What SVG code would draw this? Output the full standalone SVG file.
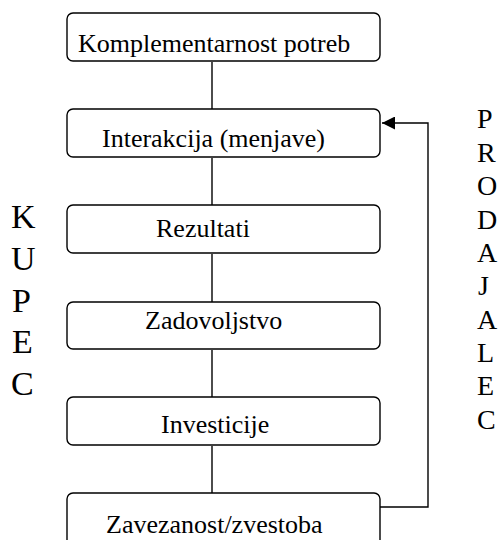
<svg xmlns="http://www.w3.org/2000/svg" width="499" height="540" viewBox="0 0 499 540">
  <style>
    .box { fill: #ffffff; stroke: #000000; stroke-width: 1.4; }
    .lbl { font-family: "Liberation Serif", "Times New Roman", serif; font-size: 26px; fill: #000000; }
    .side { font-family: "Liberation Serif", "Times New Roman", serif; fill: #000000; }
    .link { stroke: #000000; stroke-width: 1.4; fill: none; }
  </style>
  <defs>
    <marker id="arrow" viewBox="0 0 10 10" refX="10" refY="5" markerWidth="18" markerHeight="13" markerUnits="userSpaceOnUse" orient="auto">
      <path d="M0,0 L10,5 L0,10 Z" fill="#000000"/>
    </marker>
  </defs>
  <rect width="499" height="540" fill="#ffffff"/>

  <g id="connectors">
    <line class="link" x1="212" y1="62" x2="212" y2="110"/>
    <line class="link" x1="212" y1="158" x2="212" y2="206"/>
    <line class="link" x1="212" y1="254" x2="212" y2="303"/>
    <line class="link" x1="212" y1="350" x2="212" y2="398"/>
    <line class="link" x1="212" y1="446" x2="212" y2="494"/>
    <polyline class="link" points="380,507 428,507 428,123 382,123" marker-end="url(#arrow)"/>
  </g>

  <g id="komplementarnost">
    <rect class="box" x="67" y="13" width="313" height="48" rx="6"/>
    <text class="lbl" x="78" y="52">Komplementarnost potreb</text>
  </g>
  <g id="interakcija">
    <rect class="box" x="67" y="109" width="313" height="48" rx="6"/>
    <text class="lbl" x="102" y="147">Interakcija (menjave)</text>
  </g>
  <g id="rezultati">
    <rect class="box" x="67" y="205" width="313" height="48" rx="6"/>
    <text class="lbl" x="156" y="237">Rezultati</text>
  </g>
  <g id="zadovoljstvo">
    <rect class="box" x="67" y="302" width="313" height="47" rx="6"/>
    <text class="lbl" x="145" y="329">Zadovoljstvo</text>
  </g>
  <g id="investicije">
    <rect class="box" x="67" y="397" width="313" height="48" rx="6"/>
    <text class="lbl" x="161" y="433">Investicije</text>
  </g>
  <g id="zavezanost">
    <rect class="box" x="67" y="493" width="313" height="60" rx="6"/>
    <text class="lbl" x="106" y="533">Zavezanost/zvestoba</text>
  </g>

  <g id="kupec" class="side" font-size="34">
    <text x="11" y="228">K</text>
    <text x="11" y="270">U</text>
    <text x="12" y="312">P</text>
    <text x="12" y="353">E</text>
    <text x="11" y="395">C</text>
  </g>

  <g id="prodajalec" class="side" font-size="28">
    <text x="477" y="128">P</text>
    <text x="477" y="162">R</text>
    <text x="477" y="195">O</text>
    <text x="477" y="229">D</text>
    <text x="477" y="262">A</text>
    <text x="478" y="295">J</text>
    <text x="477" y="329">A</text>
    <text x="477" y="362">L</text>
    <text x="477" y="395">E</text>
    <text x="477" y="429">C</text>
  </g>
</svg>
